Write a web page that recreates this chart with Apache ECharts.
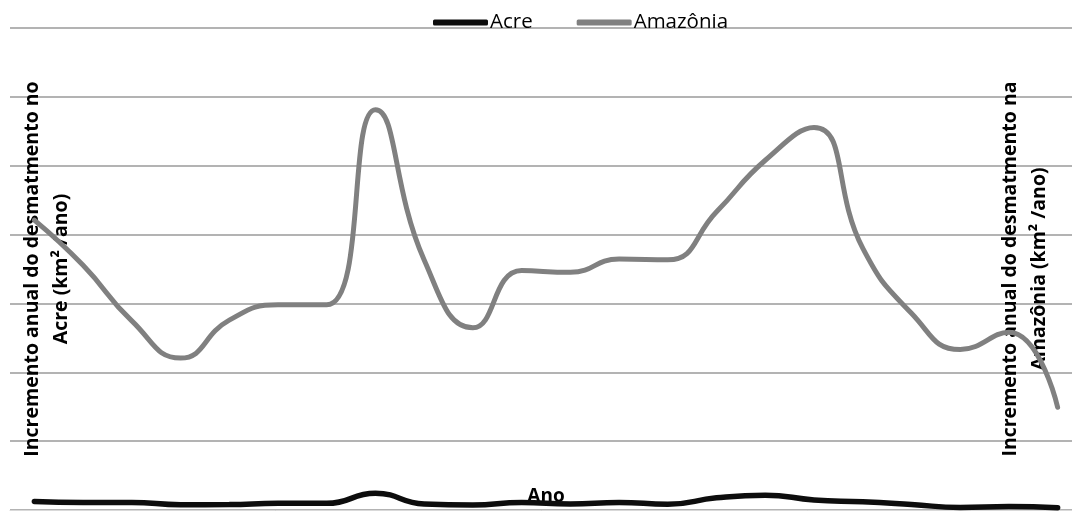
<!DOCTYPE html>
<html>
<head>
<meta charset="utf-8">
<script src="https://cdn.jsdelivr.net/npm/echarts@6/dist/echarts.min.js"></script>
<style>
html,body{margin:0;padding:0;background:#fff;}
#chart{width:1072px;height:511px;}
</style>
</head>
<body>
<div id="chart"></div>
<script>
var years = ['1988','1989','1990','1991','1992','1993','1994','1995','1996','1997','1998','1999','2000','2001','2002','2003','2004','2005','2006','2007','2008','2009'];
var acre = [620,540,550,380,400,482,482,1208,433,358,536,441,547,419,883,1078,728,592,398,184,254,167];
var amazonia = [21050,17770,13730,11030,13786,14896,14896,29059,18161,13227,17383,17259,18226,18165,21651,25396,27772,19014,14286,11651,12911,7464];
var seriesNames = ['Acre','Amazônia'];
var leftTitle = 'Incremento anual do desmatmento no\nAcre (km² /ano)';
var rightTitle = 'Incremento anual do desmatmento na\nAmazônia (km² /ano)';
var xTitle = 'Ano';

var chart = echarts.init(document.getElementById('chart'));
var font = 'Open Sans';
chart.setOption({
  animation: false,
  backgroundColor: '#fff',
  textStyle: {fontFamily: font},
  legend: {
    top: 7, left: 428,
    itemWidth: 55, itemHeight: 6, itemGap: 44,
    icon: 'roundRect',
    textStyle: {fontFamily: font, fontSize: 20.5, color: '#000', padding: [0,0,0,-3]},
    data: seriesNames
  },
  grid: {left: 10, top: 28, width: 1072, bottom: 1, containLabel: false, outerBoundsMode: 'none'},
  xAxis: {
    type: 'category', data: years, boundaryGap: true,
    name: xTitle, nameLocation: 'middle', nameGap: -23,
    nameTextStyle: {fontFamily: font, fontSize: 19, fontWeight: 'bold', color: '#000'},
    axisLine: {show: true, lineStyle: {color: '#d9d9d9', width: 1}},
    axisTick: {show: false}, axisLabel: {show: false}
  },
  yAxis: [{
    type: 'value', min: 0, max: 35000, interval: 5000, position: 'left',
    name: leftTitle, nameLocation: 'middle', nameRotate: 90, nameGap: -66,
    nameTextStyle: {fontFamily: font, fontSize: 19.5, fontWeight: 'bold', color: '#000', lineHeight: 29, align: 'center'},
    axisLine: {show: false}, axisTick: {show: false}, axisLabel: {show: false},
    splitLine: {show: true, lineStyle: {color: '#9a9a9a', width: 1.5}}
  },{
    type: 'value', min: 0, max: 35000, interval: 5000, position: 'right',
    name: rightTitle, nameLocation: 'middle', nameRotate: 90, nameGap: -86,
    nameTextStyle: {fontFamily: font, fontSize: 19.5, fontWeight: 'bold', color: '#000', lineHeight: 29, align: 'center'},
    axisLine: {show: false}, axisTick: {show: false}, axisLabel: {show: false},
    splitLine: {show: false}
  }],
  series: [{
    name: seriesNames[0], type: 'line', yAxisIndex: 0, data: acre,
    smooth: true, showSymbol: false, symbol: 'none',
    color: '#0d0d0d',
    lineStyle: {color: '#0d0d0d', width: 5.5, cap: 'round'}
  },{
    name: seriesNames[1], type: 'line', yAxisIndex: 1, data: amazonia,
    smooth: true, showSymbol: false, symbol: 'none',
    color: '#808080',
    lineStyle: {color: '#808080', width: 5, cap: 'round'}
  }]
});
</script>
</body>
</html>
